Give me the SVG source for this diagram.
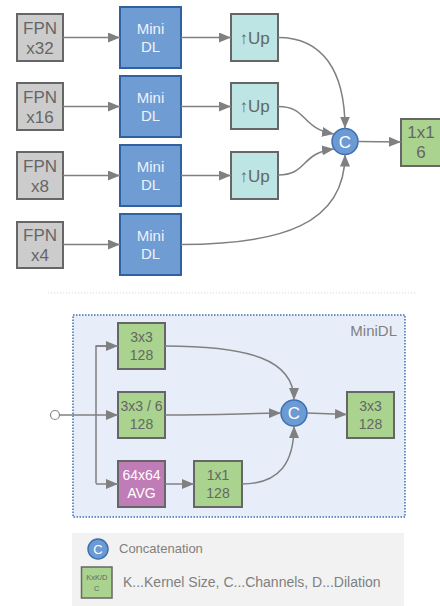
<svg xmlns="http://www.w3.org/2000/svg" width="440" height="606" viewBox="0 0 440 606">
<defs>
<marker id="ah" viewBox="0 0 12 10" refX="12" refY="5" markerWidth="12" markerHeight="10" markerUnits="userSpaceOnUse" orient="auto">
<path d="M0,0 L12,5 L0,10 Z" fill="#808080"/>
</marker>
<style>
text{font-family:"Liberation Sans",Arial,sans-serif;text-anchor:middle}
.fpn rect{fill:#cccccc;stroke:#666;stroke-width:2}
.fpn text{fill:#666;font-size:17px}
.mdl rect{fill:#6f9cd2;stroke:#3061a3;stroke-width:2}
.mdl text{fill:#eef3fb;font-size:15px}
.up rect{fill:#bce5e3;stroke:#666;stroke-width:2}
.up text{fill:#666;font-size:17px}
.gr rect{fill:#a9d38e;stroke:#666;stroke-width:2}
.gr text{fill:#666;font-size:14px}
.big text{font-size:17px}
.cc circle{fill:#6b9bd2;stroke:#3d6fb5;stroke-width:1.5}
.cc text{fill:#fff;font-size:17px}
.conn path{fill:none;stroke:#808080;stroke-width:1.5}
.arr{marker-end:url(#ah)}
</style>
</defs>
<!-- top part -->
<g id="fpn32" class="fpn"><rect x="17" y="14" width="46" height="47"/><text x="40" y="34">FPN</text><text x="40" y="54">x32</text></g>
<g id="fpn16" class="fpn"><rect x="17" y="83" width="46" height="47"/><text x="40" y="103">FPN</text><text x="40" y="123">x16</text></g>
<g id="fpn8" class="fpn"><rect x="17" y="152" width="46" height="47"/><text x="40" y="172">FPN</text><text x="40" y="192">x8</text></g>
<g id="fpn4" class="fpn"><rect x="17" y="222" width="46" height="46"/><text x="40" y="241">FPN</text><text x="40" y="261">x4</text></g>
<g id="mdl1" class="mdl"><rect x="120" y="7" width="61" height="61"/><text x="150.5" y="34">Mini</text><text x="150.5" y="52">DL</text></g>
<g id="mdl2" class="mdl"><rect x="120" y="76" width="61" height="61"/><text x="150.5" y="103">Mini</text><text x="150.5" y="121">DL</text></g>
<g id="mdl3" class="mdl"><rect x="120" y="145" width="61" height="61"/><text x="150.5" y="172">Mini</text><text x="150.5" y="190">DL</text></g>
<g id="mdl4" class="mdl"><rect x="120" y="214" width="61" height="61"/><text x="150.5" y="241">Mini</text><text x="150.5" y="259">DL</text></g>
<g id="up1" class="up"><rect x="231" y="14" width="47" height="47"/><text x="254.5" y="43.5">↑Up</text></g>
<g id="up2" class="up"><rect x="231" y="83" width="47" height="46"/><text x="254.5" y="112">↑Up</text></g>
<g id="up3" class="up"><rect x="231" y="152" width="47" height="47"/><text x="254.5" y="181.5">↑Up</text></g>
<g id="cat1" class="cc"><circle cx="345" cy="141.5" r="13"/><text x="345" y="147.5">C</text></g>
<g id="out1" class="gr big"><rect x="401" y="119" width="46" height="47"/><text x="421" y="138">1x1</text><text x="421" y="158">6</text></g>
<!-- separator -->
<line x1="48" y1="293" x2="416" y2="293" stroke="#d8d8d8" stroke-width="1.2" stroke-dasharray="1.2 1.8"/>
<!-- MiniDL container -->
<g id="minidl">
<rect x="73" y="315" width="332" height="202" fill="#e8eef9" stroke="#3d6fb5" stroke-width="1.5" stroke-dasharray="1.5 1.5"/>
<text x="397" y="336" style="text-anchor:end;font-size:15px;fill:#808080">MiniDL</text>
</g>
<g id="in" ><circle cx="55" cy="415" r="4.5" fill="#fff" stroke="#888" stroke-width="1.2"/></g>
<g id="b33a" class="gr"><rect x="118" y="323" width="47" height="46"/><text x="141.5" y="342">3x3</text><text x="141.5" y="360">128</text></g>
<g id="b336" class="gr"><rect x="118" y="392" width="47" height="46"/><text x="141.5" y="411">3x3 / 6</text><text x="141.5" y="429">128</text></g>
<g id="avg"><rect x="118" y="461" width="47" height="46" fill="#c07cb6" stroke="#666" stroke-width="2"/><text x="141.5" y="480" style="fill:#fff;font-size:14px">64x64</text><text x="141.5" y="498" style="fill:#fff;font-size:14px">AVG</text></g>
<g id="b11" class="gr"><rect x="194" y="461" width="48" height="46"/><text x="218" y="480">1x1</text><text x="218" y="498">128</text></g>
<g id="cat2" class="cc"><circle cx="294" cy="413" r="13"/><text x="294" y="419">C</text></g>
<g id="b33b" class="gr"><rect x="347" y="392" width="47" height="46"/><text x="370.5" y="411">3x3</text><text x="370.5" y="429">128</text></g>
<!-- connectors -->
<g id="connectors" class="conn">
<path class="arr" d="M63,37.5 L120,37.5"/>
<path class="arr" d="M63,106.5 L120,106.5"/>
<path class="arr" d="M63,175.5 L120,175.5"/>
<path class="arr" d="M63,244.5 L120,244.5"/>
<path class="arr" d="M181,37.5 L231,37.5"/>
<path class="arr" d="M181,106.5 L231,106.5"/>
<path class="arr" d="M181,175.5 L231,175.5"/>
<path class="arr" d="M278,37.5 C322,37.5 345,70 345,128.5"/>
<path class="arr" d="M278,106.5 C308,106.5 300,128 334,134"/>
<path class="arr" d="M278,175 C308,175 300,153 334,149"/>
<path class="arr" d="M181,244.5 C280,244.5 345,225 345,154.5"/>
<path class="arr" d="M358,141.5 L401,142"/>
<path class="arr" d="M59.5,415 L118,415"/>
<path d="M96,483.5 L96,346 L106,346"/>
<path class="arr" d="M96,346 L118,346"/>
<path class="arr" d="M96,484 L118,484"/>
<path class="arr" d="M165,346 C250,346 294,360 294,400"/>
<path class="arr" d="M165,415 C220,415 240,413.5 281,413"/>
<path class="arr" d="M307,413 L347,414.5"/>
<path class="arr" d="M165,484 L194,484"/>
<path class="arr" d="M242,484 C280,484 294,462 294,426"/>
</g>
<!-- legend -->
<g id="legend">
<rect x="72" y="533" width="332" height="73" fill="#f2f2f2"/>
<g id="legend-c" class="cc"><circle cx="98" cy="549" r="10"/><text x="98" y="554" style="font-size:13px">C</text></g>
<text x="119" y="553" style="text-anchor:start;font-size:13px;fill:#808080">Concatenation</text>
<g id="legend-box"><rect x="81.5" y="567" width="30.5" height="31" fill="#a9d38e" stroke="#666" stroke-width="1.5"/><text x="96.8" y="580" style="font-size:7.5px;fill:#666">KxK/D</text><text x="96.8" y="591" style="font-size:7.5px;fill:#666">C</text></g>
<text x="123" y="587" style="text-anchor:start;font-size:14px;fill:#808080">K...Kernel Size, C...Channels, D...Dilation</text>
</g>
</svg>
